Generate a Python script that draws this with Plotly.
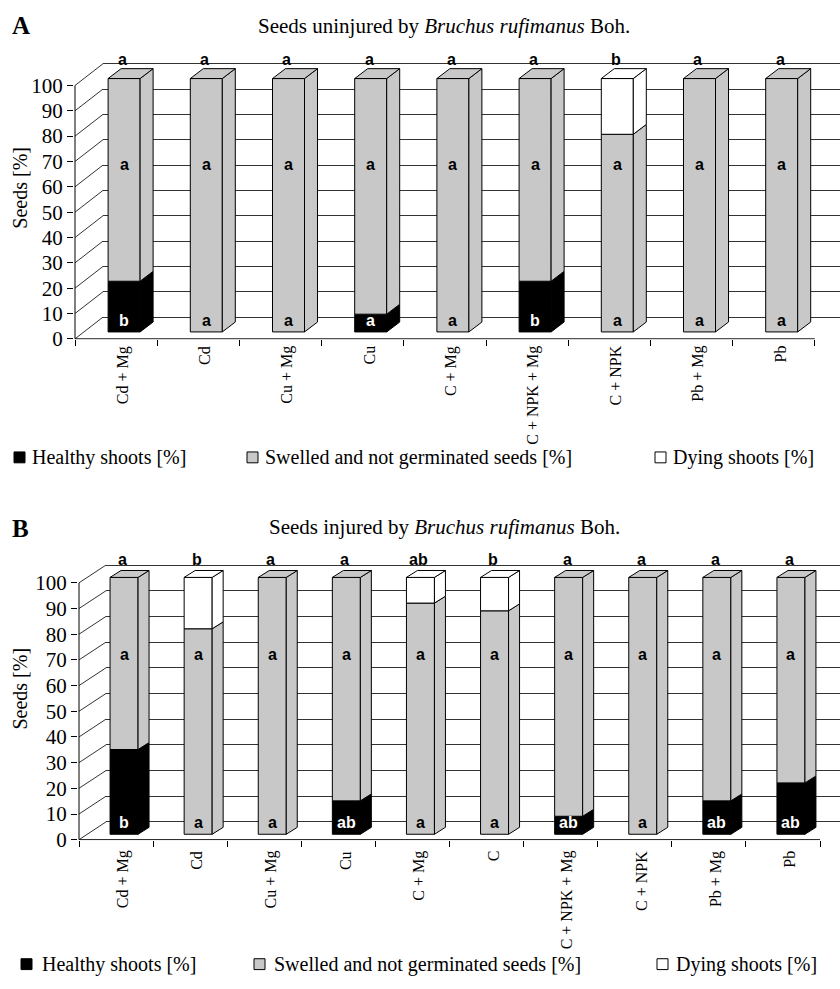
import plotly.graph_objects as go

W, H = 840, 989

# ---------------- data (panel A) ----------------
cats_a = ["Cd + Mg", "Cd", "Cu + Mg", "Cu", "C + Mg", "C + NPK + Mg", "C + NPK", "Pb + Mg", "Pb"]
healthy_a = [20, 0, 0, 7, 0, 20, 0, 0, 0]
swelled_a = [80, 100, 100, 93, 100, 80, 78, 100, 100]
dying_a = [0, 0, 0, 0, 0, 0, 22, 0, 0]
top_letters_a = ["a", "a", "a", "a", "a", "a", "b", "a", "a"]
mid_letters_a = ["a", "a", "a", "a", "a", "a", "a", "a", "a"]
bot_letters_a = ["b", "a", "a", "a", "a", "b", "a", "a", "a"]

# ---------------- data (panel B) ----------------
cats_b = ["Cd + Mg", "Cd", "Cu + Mg", "Cu", "C + Mg", "C", "C + NPK + Mg", "C + NPK", "Pb + Mg", "Pb"]
healthy_b = [33, 0, 0, 13, 0, 0, 7, 0, 13, 20]
swelled_b = [67, 80, 100, 87, 90, 87, 93, 100, 87, 80]
dying_b = [0, 20, 0, 0, 10, 13, 0, 0, 0, 0]
top_letters_b = ["a", "b", "a", "a", "ab", "b", "a", "a", "a", "a"]
mid_letters_b = ["a", "a", "a", "a", "a", "a", "a", "a", "a", "a"]
bot_letters_b = ["b", "a", "a", "ab", "a", "a", "ab", "a", "ab", "ab"]

y_ticks = [0, 10, 20, 30, 40, 50, 60, 70, 80, 90, 100]
series_names = ["Healthy shoots [%]", "Swelled and not germinated seeds [%]", "Dying shoots [%]"]
title_a = "Seeds uninjured by <i>Bruchus rufimanus</i> Boh."
title_b = "Seeds injured by <i>Bruchus rufimanus</i> Boh."

SERIF = "Liberation Serif, Times New Roman, serif"
SANS = "Liberation Sans, Arial, sans-serif"
COLORS = ["#000000", "#c8c8c8", "#ffffff"]
GRID = "#333333"

panels = [
    dict(tag="A", cats=cats_a, vals=[healthy_a, swelled_a, dying_a],
         top=top_letters_a, mid=mid_letters_a, bot=bot_letters_a, title=title_a,
         ax="", x0=75, y0=343, cw=82.2, py=2.565, ytop=45,
         setback=(8, 7), depth=(13, 10), wall=(28, 22), barw=32,
         title_y=26, tag_y=26, ytitle_y=190, legend_y=463,
         sq_x=[14, 247, 655], txt_x=[30, 263, 671],
         top_v=110.3, mid_v=69, bot_v=4.5, lab_shift=-5),
    dict(tag="B", cats=cats_b, vals=[healthy_b, swelled_b, dying_b],
         top=top_letters_b, mid=mid_letters_b, bot=bot_letters_b, title=title_b,
         ax="2", x0=79, y0=850, cw=74.1, py=2.6, ytop=553,
         setback=(8, 5.5), depth=(11, 7), wall=(27, 18), barw=28,
         title_y=533, tag_y=535, ytitle_y=697, legend_y=976,
         sq_x=[21, 254, 657], txt_x=[40, 272, 674],
         top_v=109.2, mid_v=72, bot_v=4.5, lab_shift=-9),
]

fig = go.Figure()
annotations = []
shapes = []
layout_axes = {}

for p in panels:
    xa, ya = "x" + p["ax"], "y" + p["ax"]
    n = len(p["cats"])
    cw, py = p["cw"], p["py"]
    xmin = -1.0 / cw
    ymin = -0.25
    xmax = (W - p["x0"]) / cw
    ymax = (p["y0"] - p["ytop"]) / py
    sbx, sby = p["setback"][0] / cw, p["setback"][1] / py
    ddx, ddy = p["depth"][0] / cw, p["depth"][1] / py
    wx, wy = p["wall"][0] / cw, p["wall"][1] / py
    hw = p["barw"] / 2 / cw

    xdom = [(p["x0"] + xmin * cw) / W, 1.0]
    ydom = [1 - (p["y0"] - ymin * py) / H, 1 - p["ytop"] / H]

    layout_axes["xaxis" + p["ax"]] = dict(
        domain=xdom, range=[xmin, xmax], anchor=ya, showgrid=False, zeroline=False,
        showline=False, tickmode="array", tickvals=list(range(n + 1)), ticks="outside",
        ticklen=6, tickcolor="black", showticklabels=False, fixedrange=True)
    layout_axes["yaxis" + p["ax"]] = dict(
        domain=ydom, range=[ymin, ymax], anchor=xa, showgrid=False, zeroline=False,
        showline=False, tickmode="array", tickvals=y_ticks, ticktext=[str(v) for v in y_ticks],
        ticks="outside", ticklen=6, tickcolor="black",
        tickfont=dict(family=SERIF, size=21, color="black"), fixedrange=True,
        minor=dict(tickmode="array", tickvals=[v + wy for v in y_ticks], showgrid=True,
                   gridcolor=GRID, gridwidth=1, ticks=""))

    # cover back-wall grid lines in the left-wall region
    fig.add_trace(go.Scatter(x=[xmin, wx, wx, xmin, xmin], y=[0, wy, ymax, ymax, 0],
                             fill="toself", fillcolor="white", mode="none",
                             xaxis=xa, yaxis=ya, showlegend=False, hoverinfo="skip"))
    # left-wall slanted lines
    lx, ly = [], []
    for v in y_ticks:
        lx += [0, wx, None]
        ly += [v, v + wy, None]
    fig.add_trace(go.Scatter(x=lx, y=ly, mode="lines", line=dict(color=GRID, width=1),
                             xaxis=xa, yaxis=ya, showlegend=False, hoverinfo="skip"))
    # front axis lines
    fig.add_trace(go.Scatter(x=[n, 0, 0], y=[0, 0, 100], mode="lines",
                             line=dict(color="black", width=1),
                             xaxis=xa, yaxis=ya, showlegend=False, hoverinfo="skip"))

    centers = [i + 0.5 + sbx for i in range(n)]
    cum = [0.0] * n
    side_polys = {c: ([], []) for c in COLORS}
    top_polys = {c: ([], []) for c in COLORS}
    tops = [0.0] * n
    top_color = [COLORS[0]] * n
    for k, vals in enumerate(p["vals"]):
        col = COLORS[k]
        bases = [sby + c for c in cum]
        fig.add_trace(go.Bar(
            x=centers, y=[v if v > 0 else None for v in vals], base=bases,
            width=p["barw"] / cw, marker=dict(color=col, line=dict(color="black", width=1)),
            name=series_names[k], xaxis=xa, yaxis=ya, showlegend=False, hoverinfo="skip"))
        for i, v in enumerate(vals):
            if v > 0:
                b = sby + cum[i]
                t = b + v
                xr_ = centers[i] + hw
                sx, sy = side_polys[col]
                sx += [xr_, xr_ + ddx, xr_ + ddx, xr_, xr_, None]
                sy += [b, b + ddy, t + ddy, t, b, None]
                tops[i] = t
                top_color[i] = col
            cum[i] += v
    for i in range(n):
        xl = centers[i] - hw
        xr_ = centers[i] + hw
        t = tops[i]
        tx, ty = top_polys[top_color[i]]
        tx += [xl, xl + ddx, xr_ + ddx, xr_, xl, None]
        ty += [t, t + ddy, t + ddy, t, t, None]
    for col in COLORS:
        for polys in (side_polys, top_polys):
            px_, py_ = polys[col]
            if px_:
                fig.add_trace(go.Scatter(x=px_, y=py_, mode="lines", fill="toself",
                                         fillcolor=col, line=dict(color="black", width=1),
                                         xaxis=xa, yaxis=ya, showlegend=False, hoverinfo="skip"))

    # letters
    healthy = p["vals"][0]
    for i in range(n):
        annotations.append(dict(x=centers[i] - 0.02, y=p["top_v"], xref=xa, yref=ya,
                                text="<b>%s</b>" % p["top"][i], showarrow=False,
                                font=dict(family=SANS, size=16, color="black")))
        annotations.append(dict(x=centers[i], y=p["mid_v"], xref=xa, yref=ya,
                                text="<b>%s</b>" % p["mid"][i], showarrow=False,
                                font=dict(family=SANS, size=16, color="black")))
        annotations.append(dict(x=centers[i], y=sby + p["bot_v"], xref=xa, yref=ya,
                                text="<b>%s</b>" % p["bot"][i], showarrow=False,
                                font=dict(family=SANS, size=16,
                                          color="white" if healthy[i] > 0 else "black")))
        annotations.append(dict(x=centers[i] - 0.02, y=0, xref=xa, yref=ya, yshift=p["lab_shift"],
                                text=p["cats"][i], showarrow=False, textangle=-90,
                                xanchor="center", yanchor="top",
                                font=dict(family=SERIF, size=16, color="black")))

    # titles / tags
    annotations.append(dict(x=444 / W, y=1 - p["title_y"] / H, xref="paper", yref="paper",
                            text=p["title"], showarrow=False, xanchor="center", yanchor="middle",
                            font=dict(family=SERIF, size=21, color="black")))
    annotations.append(dict(x=10 / W, y=1 - p["tag_y"] / H, xref="paper", yref="paper",
                            text="<b>%s</b>" % p["tag"], showarrow=False, xanchor="left",
                            yanchor="middle", font=dict(family=SERIF, size=25, color="black")))
    annotations.append(dict(x=20 / W, y=1 - p["ytitle_y"] / H, xref="paper", yref="paper",
                            text="Seeds [%]", showarrow=False, textangle=-90,
                            xanchor="center", yanchor="middle",
                            font=dict(family=SERIF, size=20, color="black")))
    # legend
    for k in range(3):
        sq = 11
        y_c = p["legend_y"]
        shapes.append(dict(type="rect", xref="paper", yref="paper",
                           x0=p["sq_x"][k] / W, x1=(p["sq_x"][k] + sq) / W,
                           y0=1 - (y_c + sq / 2) / H, y1=1 - (y_c - sq / 2) / H,
                           fillcolor=COLORS[k], line=dict(color="black", width=1)))
        annotations.append(dict(x=p["txt_x"][k] / W, y=1 - y_c / H, xref="paper", yref="paper",
                                text=series_names[k], showarrow=False, xanchor="left",
                                yanchor="middle", font=dict(family=SERIF, size=20, color="black")))

fig.update_layout(
    width=W, height=H, autosize=False, margin=dict(l=0, r=0, t=0, b=0),
    paper_bgcolor="white", plot_bgcolor="white", barmode="overlay",
    showlegend=False, annotations=annotations, shapes=shapes, **layout_axes)

fig.write_html("out.html",
               config={"displayModeBar": False, "staticPlot": True},
               post_script="document.body.style.margin='0px';"
                           "document.body.style.padding='0px';"
                           "document.body.style.overflow='hidden';")
